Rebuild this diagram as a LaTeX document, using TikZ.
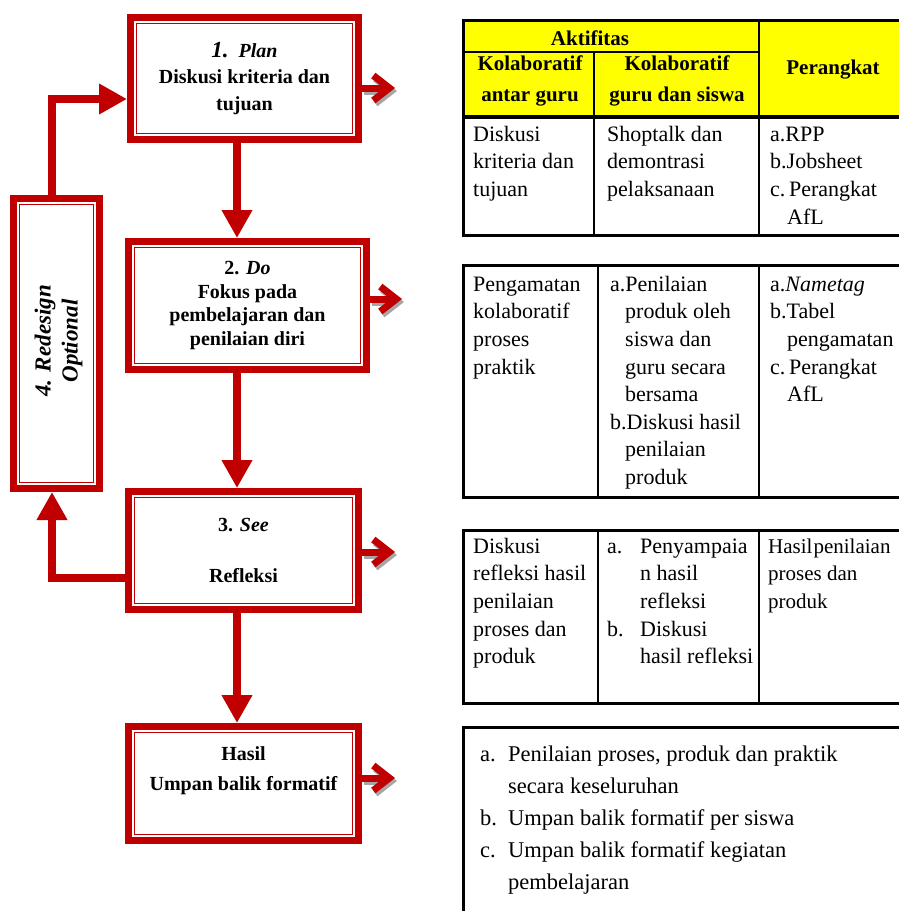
\documentclass[tikz,border=0pt]{standalone}
\usepackage{fontspec}
\setmainfont{Liberation Serif}
\usetikzlibrary{arrows.meta}
\definecolor{dr}{HTML}{C00000}
\definecolor{yl}{HTML}{FFFF00}
\pgfdeclarelayer{bg}
\pgfsetlayers{bg,main}
\begin{document}
\begin{tikzpicture}[x=1pt,y=-1pt,
  bx/.style={draw=dr, line width=7pt, fill=white, inner sep=0pt, align=center, text=black,
    font=\fontsize{20}{24}\selectfont\bfseries,
    path picture={\draw[dr,line width=1.8pt] ([xshift=6pt,yshift=-6pt]path picture bounding box.north west) rectangle ([xshift=-6pt,yshift=6pt]path picture bounding box.south east);}},
  flow/.style={dr, line width=8pt, -{Triangle[width=29pt,length=28pt]}},
  side/.style={dr, line width=7pt, line join=miter, -{Straight Barb[length=16pt,width=25pt]}},
  sideshadow/.style={black!35, line width=7pt, line join=miter, -{Straight Barb[length=16pt,width=25pt]}},
  tb/.style={draw=black, line width=3pt},
  tl/.style={draw=black, line width=1.4pt},
  cell/.style={anchor=north west, inner sep=0pt, align=left, font=\fontsize{22}{27.6}\selectfont},
  hd/.style={inner sep=0pt, align=center, font=\fontsize{21}{31}\selectfont\bfseries},
]
\useasboundingbox (0,0) rectangle (899,911);
\clip (0,0) rectangle (899,911);

% ---------- flow boxes ----------
\node[bx, minimum width=228pt, minimum height=122pt, font=\fontsize{20}{26.5}\selectfont\bfseries] (b1) at (244.5,78.5)
  {{\fontsize{23}{26.5}\selectfont\itshape 1.}\ \ {\itshape Plan}\\Diskusi kriteria dan\\tujuan};
\node[bx, minimum width=238pt, minimum height=128pt, font=\fontsize{20}{23.5}\selectfont\bfseries] (b2) at (247.5,305.5)
  {2. \textit{Do}\\Fokus pada\\pembelajaran dan\\penilaian diri};
\node[bx, minimum width=230pt, minimum height=118pt, font=\fontsize{20}{25.5}\selectfont\bfseries] (b3) at (243.5,550.5)
  {3. \textit{See}\\\mbox{}\\Refleksi};
\node[bx, minimum width=230pt, minimum height=114pt, font=\fontsize{20}{30}\selectfont\bfseries] (b5) at (243.5,783.5)
  {Hasil\\Umpan balik formatif\\\mbox{}};
\node[bx, minimum width=86pt, minimum height=290pt] (b4) at (56.5,343.5) {};
\node[rotate=90, align=center, inner sep=0pt, font=\fontsize{23}{27}\selectfont\bfseries\itshape] (t4) at (58.5,341)
  {4. Redesign\\Optional};

% ---------- connectors ----------
\coordinate (c12) at ([xshift=-7.5pt]b1.south);
\coordinate (c23) at ([xshift=-10.5pt]b2.south);
\coordinate (c35) at ([xshift=-6.5pt]b3.south);
\coordinate (e1) at (395,88);
\coordinate (e2) at (402,299);
\coordinate (e3) at (395,552);
\coordinate (e5) at (395,778);
\begin{pgfonlayer}{bg}
  \draw[flow] (c12) -- (c12 |- b2.north);
  \draw[flow] (c23) -- (c23 |- b3.north);
  \draw[flow] (c35) -- (c35 |- b5.north);
  \draw[flow] ([yshift=-27.5pt]b3.west) -| ([xshift=-4.5pt]b4.south);
  \draw[flow] ([xshift=-4.5pt]b4.north) |- ([yshift=-20.5pt]b1.west);
  % side arrows with shadow
  \draw[sideshadow] ([xshift=2pt,yshift=-12.5pt]b1.east) -- ([xshift=2pt,yshift=-3pt]e1);
  \draw[side] ([yshift=-9.5pt]b1.east) -- (e1);
  \draw[sideshadow] ([xshift=2pt,yshift=3.5pt]b2.east) -- ([xshift=2pt,yshift=-3pt]e2);
  \draw[side] ([yshift=6.5pt]b2.east) -- (e2);
  \draw[sideshadow] ([xshift=2pt,yshift=-4.5pt]b3.east) -- ([xshift=2pt,yshift=-3pt]e3);
  \draw[side] ([yshift=-1.5pt]b3.east) -- (e3);
  \draw[sideshadow] ([xshift=2pt,yshift=2.5pt]b5.east) -- ([xshift=2pt,yshift=-3pt]e5);
  \draw[side] ([yshift=5.5pt]b5.east) -- (e5);
\end{pgfonlayer}

% ---------- table 1 ----------
\fill[yl] (463,20) rectangle (905,117);
\draw[tl] (463,52) -- (759,52);
\draw[tl] (594,52) -- (594,235);
\draw[tl] (759,20) -- (759,235);
\draw[black, line width=4pt] (463,117) -- (905,117);
\draw[tb] (463,20) rectangle (905,235);
\node[hd] (h0) at (590,38) {Aktifitas};
\node[hd] (h1) at (530,81) {Kolaboratif\\antar guru};
\node[hd] (h2) at (677,81) {Kolaboratif\\guru dan siswa};
\node[hd] (h3) at (833,70) {Perangkat};
\node[cell] (r1a) at (473,121.7) {\strut Diskusi\\kriteria dan\\tujuan};
\node[cell] (r1b) at (607,121.7) {\strut Shoptalk dan\\demontrasi\\pelaksanaan};
\node[cell] (r1c) at (770,121.7) {\strut a.RPP\\b.Jobsheet\\c.\,Perangkat\\\hspace*{17pt}AfL};

% ---------- table 2 ----------
\draw[tl] (598,265) -- (598,497);
\draw[tl] (759,265) -- (759,497);
\draw[tb] (463,265) rectangle (905,497);
\node[cell] (r2a) at (473,271.7) {\strut Pengamatan\\kolaboratif\\proses\\praktik};
\node[cell] (r2b) at (610,271.7) {\strut a.Penilaian\\\hspace*{15pt}produk oleh\\\hspace*{15pt}siswa dan\\\hspace*{15pt}guru secara\\\hspace*{15pt}bersama\\b.Diskusi hasil\\\hspace*{15pt}penilaian\\\hspace*{15pt}produk};
\node[cell] (r2c) at (770,271.7) {\strut a.\textit{Nametag}\\b.Tabel\\\hspace*{17pt}pengamatan\\c.\,Perangkat\\\hspace*{17pt}AfL};

% ---------- table 3 ----------
\draw[tl] (598,530) -- (598,703);
\draw[tl] (759,530) -- (759,703);
\draw[tb] (463,530) rectangle (905,703);
\node[cell] (r3a) at (473,533.7) {\strut Diskusi\\refleksi hasil\\penilaian\\proses dan\\produk};
\node[cell] (r3b) at (607,533.7) {\strut\makebox[33pt][l]{a.}Penyampaia\\\hspace*{33pt}n hasil\\\hspace*{33pt}refleksi\\\makebox[33pt][l]{b.}Diskusi\\\hspace*{33pt}hasil refleksi};
\node[cell, font=\fontsize{21}{27.6}\selectfont] (r3c) at (768,533.7) {\strut Hasil\kern1pt penilaian\\proses dan\\produk};

% ---------- table 4 ----------
\draw[tb] (463,727) rectangle (905,925);
\node[cell, font=\fontsize{22.5}{32}\selectfont] (r4) at (480,738.6)
  {\strut\makebox[28pt][l]{a.}Penilaian proses, produk dan praktik\\\hspace*{28pt}secara keseluruhan\\\makebox[28pt][l]{b.}Umpan balik formatif per siswa\\\makebox[28pt][l]{c.}Umpan balik formatif kegiatan\\\hspace*{28pt}pembelajaran};
\end{tikzpicture}
\end{document}
